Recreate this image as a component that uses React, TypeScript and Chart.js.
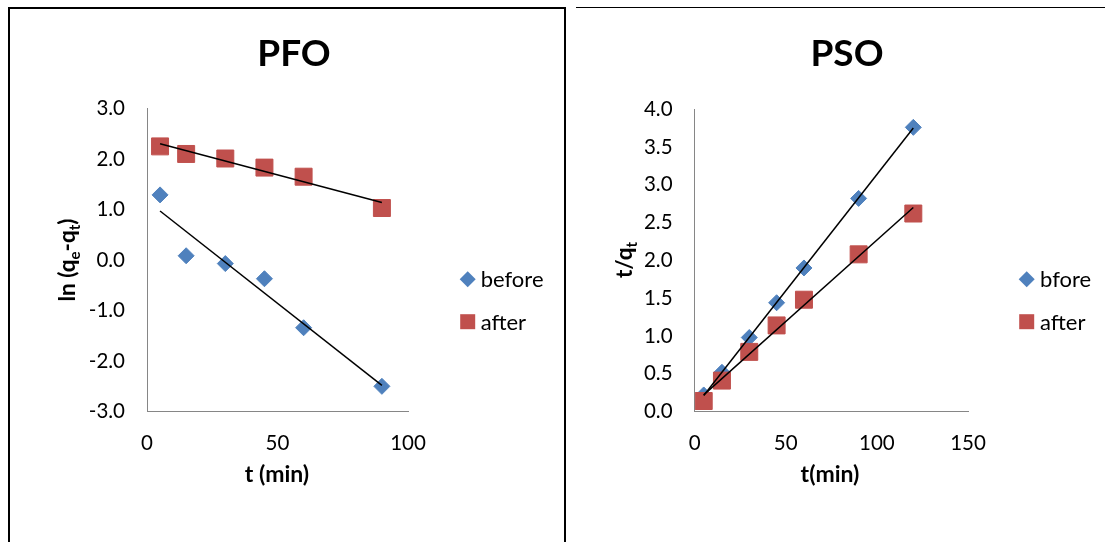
import React, { useEffect, useRef } from 'react';
import { Chart, registerables } from 'chart.js';

Chart.register(...registerables);

// ---------- data ----------
const timePFO = [5, 15, 30, 45, 60, 90];
const pfoBefore = [1.29, 0.085, -0.07, -0.37, -1.34, -2.5];
const pfoAfter = [2.25, 2.1, 2.01, 1.83, 1.65, 1.03];

const timePSO = [5, 15, 30, 45, 60, 90, 120];
const psoBefore = [0.22, 0.52, 0.98, 1.44, 1.9, 2.82, 3.76];
const psoAfter = [0.14, 0.41, 0.79, 1.14, 1.48, 2.08, 2.62];

const pfoLabels = ['before', 'after'];
const psoLabels = ['bfore', 'after'];

const FONT = 'Lato, "Open Sans", sans-serif';
const BLUE = '#4F81BD';
const RED = '#C0504D';

type Seg = { t: string; sub?: boolean };

function fitLine(xs: number[], ys: number[]) {
  const n = xs.length;
  const mx = xs.reduce((a, b) => a + b, 0) / n;
  const my = ys.reduce((a, b) => a + b, 0) / n;
  let sxy = 0;
  let sxx = 0;
  for (let i = 0; i < n; i++) {
    sxy += (xs[i] - mx) * (ys[i] - my);
    sxx += (xs[i] - mx) * (xs[i] - mx);
  }
  const m = sxy / sxx;
  const b = my - m * mx;
  const x0 = Math.min(...xs);
  const x1 = Math.max(...xs);
  return [
    { x: x0, y: m * x0 + b },
    { x: x1, y: m * x1 + b },
  ];
}

function drawRich(ctx: CanvasRenderingContext2D, segs: Seg[], size: number) {
  const big = `bold ${size}px ${FONT}`;
  const small = `bold ${Math.round(size * 0.65)}px ${FONT}`;
  let w = 0;
  for (const s of segs) {
    ctx.font = s.sub ? small : big;
    w += ctx.measureText(s.t).width;
  }
  let x = -w / 2;
  ctx.textAlign = 'left';
  ctx.textBaseline = 'alphabetic';
  const base = size * 0.35;
  for (const s of segs) {
    ctx.font = s.sub ? small : big;
    ctx.fillText(s.t, x, s.sub ? base + size * 0.22 : base);
    x += ctx.measureText(s.t).width;
  }
}

interface PanelCfg {
  left: number;
  top: number;
  w: number;
  h: number;
  area: { l: number; t: number; r: number; b: number };
  title: string;
  titlePos: [number, number];
  xTitle: string;
  xTitlePos: [number, number];
  yTitle: Seg[];
  yTitlePos: [number, number];
  legendMarkerX: number;
  legendTextX: number;
  legendY: number[];
  xs: number[];
  before: number[];
  after: number[];
  labels: string[];
  xMax: number;
  xStep: number;
  yMin: number;
  yMax: number;
  yStep: number;
}

function Panel({ cfg }: { cfg: PanelCfg }) {
  const ref = useRef<HTMLCanvasElement>(null);
  useEffect(() => {
    const textLayer = {
      id: 'textLayer',
      afterDraw(chart: any) {
        const ctx: CanvasRenderingContext2D = chart.ctx;
        ctx.save();
        ctx.fillStyle = '#000';
        // title
        ctx.font = `bold 37px ${FONT}`;
        ctx.textAlign = 'center';
        ctx.textBaseline = 'middle';
        ctx.fillText(cfg.title, cfg.titlePos[0], cfg.titlePos[1]);
        // x title
        ctx.font = `bold 23px ${FONT}`;
        ctx.fillText(cfg.xTitle, cfg.xTitlePos[0], cfg.xTitlePos[1]);
        // y title
        ctx.save();
        ctx.translate(cfg.yTitlePos[0], cfg.yTitlePos[1]);
        ctx.rotate(-Math.PI / 2);
        drawRich(ctx, cfg.yTitle, 22.5);
        ctx.restore();
        // legend
        const items = chart.data.datasets.filter((d: any) => !d.isTrend);
        items.forEach((d: any, i: number) => {
          const cx = cfg.legendMarkerX;
          const cy = cfg.legendY[i];
          ctx.fillStyle = d.backgroundColor;
          ctx.beginPath();
          if (d.pointStyle === 'rectRot') {
            const r = 8;
            ctx.moveTo(cx, cy - r);
            ctx.lineTo(cx + r, cy);
            ctx.lineTo(cx, cy + r);
            ctx.lineTo(cx - r, cy);
            ctx.closePath();
          } else {
            const s = 7.5;
            ctx.rect(cx - s, cy - s, 2 * s, 2 * s);
          }
          ctx.fill();
          ctx.fillStyle = '#000';
          ctx.font = `22px ${FONT}`;
          ctx.textAlign = 'left';
          ctx.textBaseline = 'middle';
          ctx.fillText(d.label, cfg.legendTextX, cy + 1);
        });
        ctx.restore();
      },
    };

    const beforePts = cfg.xs.map((x, i) => ({ x, y: cfg.before[i] }));
    const afterPts = cfg.xs.map((x, i) => ({ x, y: cfg.after[i] }));

    const chart = new Chart(ref.current!, {
      type: 'scatter',
      data: {
        datasets: [
          {
            type: 'line',
            isTrend: true,
            label: 'trend-before',
            data: fitLine(cfg.xs, cfg.before),
            borderColor: '#000',
            borderWidth: 1.5,
            pointRadius: 0,
            fill: false,
            order: 0,
          } as any,
          {
            type: 'line',
            isTrend: true,
            label: 'trend-after',
            data: fitLine(cfg.xs, cfg.after),
            borderColor: '#000',
            borderWidth: 1.5,
            pointRadius: 0,
            fill: false,
            order: 0,
          } as any,
          {
            label: cfg.labels[0],
            data: beforePts,
            pointStyle: 'rectRot',
            pointRadius: 8,
            backgroundColor: BLUE,
            borderColor: BLUE,
            borderWidth: 1,
            order: 2,
          } as any,
          {
            label: cfg.labels[1],
            data: afterPts,
            pointStyle: 'rect',
            pointRadius: 12,
            backgroundColor: RED,
            borderColor: RED,
            borderWidth: 1,
            order: 1,
          } as any,
        ],
      },
      options: {
        animation: false,
        responsive: false,
        devicePixelRatio: 1,
        layout: {
          padding: {
            left: 0,
            top: cfg.area.t,
            right: cfg.w - cfg.area.r,
            bottom: 0,
          },
        },
        plugins: {
          legend: { display: false },
          title: { display: false },
          tooltip: { enabled: false },
        },
        scales: {
          x: {
            type: 'linear',
            min: 0,
            max: cfg.xMax,
            grid: { display: false, drawTicks: false },
            border: { display: true, color: '#868686', width: 1 },
            ticks: {
              stepSize: cfg.xStep,
              padding: 19,
              color: '#000',
              font: { family: FONT, size: 20.5 },
            },
            afterFit: (s: any) => {
              s.height = cfg.h - cfg.area.b;
            },
          },
          y: {
            type: 'linear',
            min: cfg.yMin,
            max: cfg.yMax,
            grid: { display: false, drawTicks: false },
            border: { display: true, color: '#868686', width: 1 },
            ticks: {
              stepSize: cfg.yStep,
              padding: 22,
              color: '#000',
              font: { family: FONT, size: 20.5 },
              callback: (v: any) => Number(v).toFixed(1),
            },
            afterFit: (s: any) => {
              s.width = cfg.area.l;
            },
          },
        },
      } as any,
      plugins: [textLayer],
    });
    return () => chart.destroy();
  }, []);
  return (
    <canvas
      ref={ref}
      width={cfg.w}
      height={cfg.h}
      style={{ position: 'absolute', left: cfg.left, top: cfg.top, width: cfg.w, height: cfg.h }}
    />
  );
}

const pfoCfg: PanelCfg = {
  left: 10,
  top: 9,
  w: 552,
  h: 533,
  area: { l: 137, t: 99.5, r: 398, b: 402.6 },
  title: 'PFO',
  titlePos: [284, 45],
  xTitle: 't (min)',
  xTitlePos: [267, 466],
  yTitle: [{ t: 'ln (q' }, { t: 'e', sub: true }, { t: '-q' }, { t: 't', sub: true }, { t: ')' }],
  yTitlePos: [57.5, 251],
  legendMarkerX: 457.7,
  legendTextX: 470.7,
  legendY: [270.3, 312.7],
  xs: timePFO,
  before: pfoBefore,
  after: pfoAfter,
  labels: pfoLabels,
  xMax: 100,
  xStep: 50,
  yMin: -3,
  yMax: 3,
  yStep: 1,
};

const psoCfg: PanelCfg = {
  left: 567,
  top: 9,
  w: 538,
  h: 533,
  area: { l: 127.6, t: 100.2, r: 401, b: 402.6 },
  title: 'PSO',
  titlePos: [280, 45],
  xTitle: 't(min)',
  xTitlePos: [263, 466],
  yTitle: [{ t: 't/q' }, { t: 't', sub: true }],
  yTitlePos: [57.5, 251],
  legendMarkerX: 459.7,
  legendTextX: 473,
  legendY: [270.3, 312.7],
  xs: timePSO,
  before: psoBefore,
  after: psoAfter,
  labels: psoLabels,
  xMax: 150,
  xStep: 50,
  yMin: 0,
  yMax: 4,
  yStep: 0.5,
};

export default function App() {
  return (
    <div
      style={{
        position: 'fixed',
        left: 0,
        top: 0,
        width: 1105,
        height: 542,
        overflow: 'hidden',
        background: '#fff',
      }}
    >
      <Panel cfg={pfoCfg} />
      <Panel cfg={psoCfg} />
      <div
        style={{
          position: 'absolute',
          left: 8,
          top: 7,
          width: 554,
          height: 600,
          borderLeft: '2px solid #000',
          borderTop: '2px solid #000',
          borderRight: '2px solid #000',
          boxSizing: 'content-box',
        }}
      />
      <div
        style={{
          position: 'absolute',
          left: 576,
          top: 7,
          width: 529,
          height: 0,
          borderTop: '1.5px solid #000',
        }}
      />
    </div>
  );
}
